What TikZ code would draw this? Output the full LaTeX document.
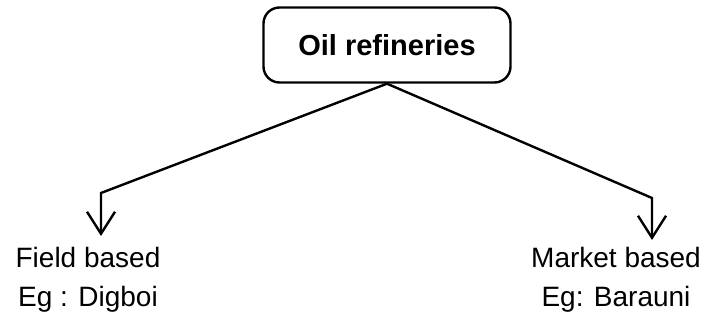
\documentclass[tikz,border=0pt]{standalone}
\usepackage{fontspec}
\setmainfont{Liberation Sans}
\usetikzlibrary{arrows.meta}
\begin{document}
\begin{tikzpicture}[x=1pt,y=-1pt,
  rootbox/.style={draw, line width=2.4pt, rounded corners=16pt,
    minimum width=247pt, minimum height=75pt, inner sep=0pt,
    font=\fontsize{29}{34}\selectfont\bfseries},
  leaf/.style={align=center, inner sep=0pt,
    font=\fontsize{28}{38.5}\selectfont},
  branch/.style={line width=2.4pt,
    -{Straight Barb[length=22pt,width=28pt,line width=2.4pt]}}]
  \useasboundingbox (0,0) rectangle (709,320);

  \node[rootbox] (root) at (387,45) {Oil refineries};

  \coordinate (lbend) at (101,193);
  \coordinate (ltip)  at (101,236);
  \coordinate (rbend) at (652,198);
  \coordinate (rtip)  at (652,240);

  \draw[branch] (root.south) -- (lbend) -- (ltip);
  \draw[branch] (root.south) -- (rbend) -- (rtip);

  \node[leaf, anchor=base] (field) at (88,306) {Field based\\Eg : Digboi};
  \node[leaf, anchor=base] (market) at (616,306) {Market based\\Eg: Barauni};
\end{tikzpicture}
\end{document}
